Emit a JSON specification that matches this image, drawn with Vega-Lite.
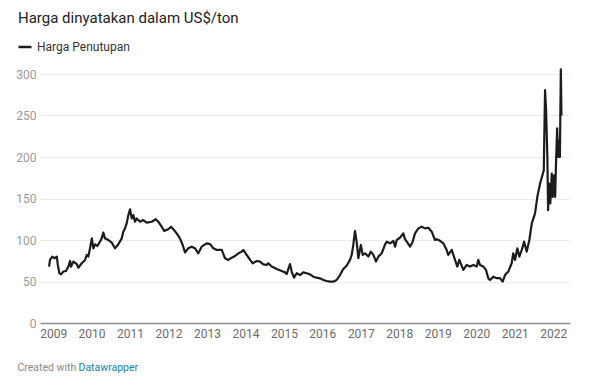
{
  "$schema": "https://vega.github.io/schema/vega-lite/v6.json",
  "autosize": "none",
  "width": 530,
  "height": 249,
  "padding": {"left": 40, "top": 74, "right": 30, "bottom": 65},
  "background": "white",
  "config": {
    "view": {"stroke": null},
    "font": "Roboto"
  },
  "title": {
    "text": "Harga dinyatakan dalam US$/ton",
    "anchor": "start",
    "frame": "group",
    "dx": -22,
    "fontSize": 15,
    "fontWeight": "normal",
    "color": "#222222",
    "font": "Roboto",
    "offset": 13
  },
  "data": {
    "values": [
      {"d":"2008-11-23","v":68},{"d":"2008-12-02","v":76},{"d":"2008-12-24","v":80},{"d":"2009-01-13","v":78},
      {"d":"2009-02-05","v":80},{"d":"2009-02-14","v":70},{"d":"2009-03-01","v":60},{"d":"2009-03-17","v":58.6},
      {"d":"2009-04-08","v":62},{"d":"2009-05-03","v":62.6},{"d":"2009-05-25","v":68},{"d":"2009-06-10","v":74.7},
      {"d":"2009-06-20","v":68},{"d":"2009-07-12","v":74},{"d":"2009-08-13","v":71},{"d":"2009-08-28","v":66.6},
      {"d":"2009-09-29","v":72},{"d":"2009-10-31","v":76},{"d":"2009-11-16","v":82},{"d":"2009-12-01","v":80},
      {"d":"2009-12-17","v":90},{"d":"2010-01-03","v":102},{"d":"2010-01-18","v":90},{"d":"2010-02-03","v":94.8},
      {"d":"2010-02-24","v":92.8},{"d":"2010-03-22","v":98},{"d":"2010-04-07","v":102},{"d":"2010-04-22","v":109},
      {"d":"2010-05-08","v":102},{"d":"2010-06-09","v":100},{"d":"2010-07-11","v":96.8},{"d":"2010-08-11","v":90},
      {"d":"2010-09-12","v":94.8},{"d":"2010-10-14","v":102},{"d":"2010-10-29","v":110},{"d":"2010-11-14","v":114},
      {"d":"2010-11-30","v":120},{"d":"2010-12-16","v":130},{"d":"2011-01-01","v":137},{"d":"2011-01-17","v":126},
      {"d":"2011-02-01","v":130},{"d":"2011-02-17","v":122},{"d":"2011-03-05","v":126},{"d":"2011-04-06","v":122},
      {"d":"2011-05-07","v":124},{"d":"2011-06-08","v":121},{"d":"2011-07-26","v":122},{"d":"2011-09-02","v":125},
      {"d":"2011-09-26","v":122},{"d":"2011-10-28","v":116},{"d":"2011-11-22","v":111},{"d":"2011-12-30","v":113},
      {"d":"2012-01-25","v":116},{"d":"2012-02-16","v":113},{"d":"2012-03-19","v":108},{"d":"2012-04-19","v":102},
      {"d":"2012-05-15","v":94},{"d":"2012-06-06","v":85},{"d":"2012-07-07","v":90},{"d":"2012-08-08","v":92},
      {"d":"2012-09-09","v":90},{"d":"2012-10-10","v":84},{"d":"2012-11-11","v":92},{"d":"2012-12-29","v":96},
      {"d":"2013-01-30","v":95},{"d":"2013-03-02","v":90},{"d":"2013-04-03","v":88},{"d":"2013-05-21","v":88},
      {"d":"2013-06-21","v":78},{"d":"2013-07-23","v":76},{"d":"2013-08-24","v":78.7},{"d":"2013-09-24","v":80.7},
      {"d":"2013-10-26","v":84},{"d":"2013-11-27","v":86},{"d":"2013-12-12","v":88},{"d":"2014-01-13","v":82},
      {"d":"2014-02-14","v":76},{"d":"2014-03-11","v":72},{"d":"2014-04-18","v":74.7},{"d":"2014-05-19","v":74},
      {"d":"2014-06-20","v":70.7},{"d":"2014-07-22","v":70},{"d":"2014-08-06","v":72},{"d":"2014-09-07","v":68},
      {"d":"2014-10-25","v":65},{"d":"2014-12-11","v":62.6},{"d":"2015-01-12","v":61},{"d":"2015-01-28","v":59},
      {"d":"2015-02-12","v":65},{"d":"2015-02-28","v":71},{"d":"2015-03-16","v":62},{"d":"2015-04-07","v":54.6},
      {"d":"2015-05-03","v":60},{"d":"2015-06-03","v":57.8},{"d":"2015-07-04","v":61},{"d":"2015-08-06","v":60},
      {"d":"2015-09-06","v":58.6},{"d":"2015-10-07","v":55.8},{"d":"2015-11-08","v":54.6},{"d":"2015-12-10","v":53.8},
      {"d":"2016-01-11","v":51.8},{"d":"2016-02-11","v":50.6},{"d":"2016-03-14","v":49.8},{"d":"2016-04-14","v":49.8},
      {"d":"2016-05-16","v":51.8},{"d":"2016-06-17","v":57.8},{"d":"2016-07-18","v":65},{"d":"2016-08-19","v":69},
      {"d":"2016-09-20","v":76},{"d":"2016-10-06","v":82},{"d":"2016-10-21","v":94},{"d":"2016-11-06","v":110.8},
      {"d":"2016-11-22","v":98},{"d":"2016-12-08","v":78},{"d":"2017-01-01","v":94},{"d":"2017-01-19","v":82},
      {"d":"2017-02-10","v":84},{"d":"2017-03-13","v":80},{"d":"2017-04-05","v":86},{"d":"2017-04-30","v":82},
      {"d":"2017-05-25","v":74},{"d":"2017-06-16","v":80},{"d":"2017-07-18","v":84},{"d":"2017-08-19","v":94.8},
      {"d":"2017-09-04","v":98},{"d":"2017-10-05","v":96},{"d":"2017-11-06","v":98.8},{"d":"2017-11-22","v":92},
      {"d":"2017-12-08","v":100},{"d":"2018-01-08","v":102.8},{"d":"2018-02-08","v":108},{"d":"2018-02-24","v":101},
      {"d":"2018-03-13","v":98},{"d":"2018-04-13","v":92},{"d":"2018-05-08","v":98},{"d":"2018-05-30","v":108},
      {"d":"2018-07-01","v":114},{"d":"2018-08-02","v":116},{"d":"2018-09-02","v":114},{"d":"2018-10-04","v":114.8},
      {"d":"2018-11-05","v":110},{"d":"2018-12-06","v":100},{"d":"2018-12-22","v":101},{"d":"2019-01-23","v":99},
      {"d":"2019-02-23","v":96},{"d":"2019-03-27","v":88},{"d":"2019-04-11","v":82},{"d":"2019-05-14","v":88},
      {"d":"2019-06-14","v":76},{"d":"2019-07-06","v":68},{"d":"2019-07-25","v":76},{"d":"2019-09-01","v":64},
      {"d":"2019-10-03","v":70},{"d":"2019-11-03","v":68},{"d":"2019-12-05","v":70},{"d":"2020-01-06","v":68},
      {"d":"2020-01-21","v":76},{"d":"2020-02-06","v":70},{"d":"2020-03-09","v":68},{"d":"2020-04-03","v":64},
      {"d":"2020-04-25","v":54},{"d":"2020-05-11","v":51.8},{"d":"2020-06-12","v":55.8},{"d":"2020-07-14","v":54},
      {"d":"2020-08-14","v":54},{"d":"2020-09-09","v":49.8},{"d":"2020-10-01","v":57.8},{"d":"2020-11-01","v":62},
      {"d":"2020-12-03","v":72},{"d":"2020-12-18","v":84},{"d":"2021-01-04","v":76},{"d":"2021-01-26","v":90},
      {"d":"2021-02-14","v":80},{"d":"2021-03-09","v":88},{"d":"2021-03-31","v":98},{"d":"2021-04-25","v":86},
      {"d":"2021-05-20","v":100},{"d":"2021-06-12","v":120},{"d":"2021-07-13","v":132},{"d":"2021-08-04","v":152},
      {"d":"2021-08-30","v":168},{"d":"2021-09-21","v":178},{"d":"2021-10-04","v":184},{"d":"2021-10-16","v":280.7},
      {"d":"2021-10-26","v":256.6},{"d":"2021-11-07","v":200},{"d":"2021-11-14","v":136},{"d":"2021-11-23","v":168},
      {"d":"2021-12-05","v":144},{"d":"2021-12-19","v":180},{"d":"2021-12-28","v":152},{"d":"2022-01-10","v":178},
      {"d":"2022-01-20","v":152},{"d":"2022-01-29","v":196},{"d":"2022-02-08","v":234.6},{"d":"2022-02-17","v":200},
      {"d":"2022-02-27","v":220},{"d":"2022-03-06","v":200},{"d":"2022-03-15","v":305.6},{"d":"2022-03-21","v":250}
    ]
  },
  "layer": [
    {
      "mark": {"type": "line", "color": "#1c1c1c", "strokeWidth": 2.2, "strokeJoin": "round"},
      "encoding": {
        "x": {
          "field": "d", "type": "temporal",
          "scale": {"domain": [{"year": 2008, "month": 8, "date": 29}, {"year": 2022, "month": 6, "date": 10}]},
          "axis": {
            "format": "%Y",
            "tickCount": {"interval": "year", "step": 1},
            "labelFlush": false,
            "labelOverlap": false,
            "grid": false,
            "ticks": false,
            "domain": true,
            "domainColor": "#8c8c8c",
            "domainWidth": 1.5,
            "labelColor": "#6b6b6b",
            "labelFontSize": 12,
            "labelFont": "Roboto",
            "labelPadding": 5,
            "title": "Created with",
            "titleX": -23,
            "titleY": 47,
            "titleAlign": "left",
            "titleAnchor": null,
            "titleBaseline": "alphabetic",
            "titleFontSize": 10.5,
            "titleFontWeight": "normal",
            "titleColor": "#888888",
            "titleFont": "Roboto"
          }
        },
        "y": {
          "field": "v", "type": "quantitative",
          "scale": {"domain": [0, 300], "nice": false},
          "axis": {
            "values": [0, 50, 100, 150, 200, 250, 300],
            "title": null,
            "domain": false,
            "ticks": false,
            "grid": true,
            "gridColor": "#ebebeb",
            "gridWidth": 1,
            "labelColor": "#9a9a9a",
            "labelFontSize": 12,
            "labelFont": "Roboto",
            "labelPadding": 4
          }
        },
        "color": {
          "datum": "Harga Penutupan",
          "type": "nominal",
          "scale": {"range": ["#1c1c1c"]},
          "legend": {
            "orient": "none",
            "legendX": -23,
            "legendY": -35,
            "title": null,
            "symbolType": "stroke",
            "symbolSize": 169,
            "symbolStrokeWidth": 2.5,
            "labelFontSize": 12,
            "labelFont": "Roboto",
            "labelColor": "#333333",
            "labelOffset": 4
          }
        }
      }
    },
    {
      "mark": {"type": "line", "opacity": 0},
      "encoding": {
        "x": {
          "field": "d", "type": "temporal",
          "axis": {
            "orient": "bottom",
            "labels": false,
            "ticks": false,
            "domain": false,
            "grid": false,
            "title": "Datawrapper",
            "titleX": 38,
            "titleY": 47,
            "titleAlign": "left",
            "titleAnchor": null,
            "titleBaseline": "alphabetic",
            "titleFontSize": 10.5,
            "titleFontWeight": "normal",
            "titleColor": "#1d81a2",
            "titleFont": "Roboto"
          }
        },
        "y": {"field": "v", "type": "quantitative"}
      }
    }
  ],
  "resolve": {"axis": {"x": "independent"}}
}
